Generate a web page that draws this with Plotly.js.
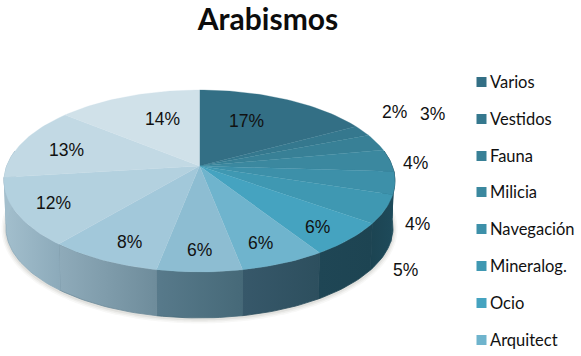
<!DOCTYPE html>
<html>
<head>
<meta charset="utf-8">
<script src="https://cdn.plot.ly/plotly-3.0.1.min.js"></script>
<style>html,body{margin:0;padding:0;background:#fff;overflow:hidden}#chart{width:581px;height:356px}</style>
</head>
<body>
<div id="chart"></div>
<script>
// Data (clockwise from 12 o'clock)
const values = [17, 2, 3, 4, 4, 5, 6, 6, 6, 8, 12, 13, 14];
const legendNames = ["Varios", "Vestidos", "Fauna", "Milicia", "Navegación", "Mineralog.", "Ocio", "Arquitect"];
// Styles
const topColors = ["#336f85","#35788e","#388096","#3b889f","#3d90a9","#3f98b2","#45a3c0","#6fb4cd","#8dbdd2","#a2c8da","#b3d1df","#c2d9e4","#d0e1e9"];
const sideLeft  = ["#1d4a5a","#1d4a5a","#1d4a5a","#1d4a5a","#1c4654","#1c4452","#1f4655","#37586a","#587a8b","#8fabba","#a3bfcd","#a3bfcd","#a3bfcd"];
const sideRight = ["#1f4e5f","#1f4e5f","#1f4e5f","#1f4e5f","#1f4c5c","#1e4a5a","#1d4452","#2d4f5e","#466978","#6e8c9b","#8caaba","#a3bfcd","#a3bfcd"];
// Layout helpers (pixel-scaled axes)
const cx = 199.5, cy = 166, Bx = 192.8, Ay = 88.5, persp = 0.165, depth = 47, shrink = 0.99;
const labelXY = [[246,121],[394,112],[432,114],[415,163],[417,224],[405,270],[317,227],[260,243],[199,250],[129,242],[53,203],[66,150],[162,119]];
const legendX = 481.5, legendTextX = 490, legendTextDy = 1.5;
const legendY = [82,119,156,192,229,266,303,340];

const total = values.reduce((a,b)=>a+b,0);
function proj(deg, bottom){
  const t = deg*Math.PI/180, u = Math.sin(t), v = Math.cos(t), w = 1 + persp*v;
  const s = bottom ? shrink : 1, d = bottom ? depth : 0;
  return [cx + s*Bx*u/w, cy - s*Ay*v/w + d];
}
function arc(a0, a1, bottom){
  const n = Math.max(2, Math.ceil(Math.abs(a1-a0)/1.5)), pts = [];
  for(let i=0;i<=n;i++) pts.push(proj(a0+(a1-a0)*i/n, bottom));
  return pts;
}
const traces = [];
// soft shadow below the disc
[[9,0.035],[6,0.05],[3,0.07]].forEach(([wd,al])=>{
  const p = arc(78,282,true);
  traces.push({type:"scatter",mode:"lines",x:p.map(q=>q[0]),y:p.map(q=>q[1]+1),
    line:{color:"rgba(60,50,40,"+al+")",width:wd,shape:"spline"},hoverinfo:"skip",showlegend:false});
});
let cum = 0;
const slices = values.map(v=>{const a0=cum/total*360; cum+=v; return [a0,cum/total*360];});
// rim (only the front half is visible)
slices.forEach(([a0,a1],i)=>{
  const s0 = Math.max(a0,80), s1 = Math.min(a1,280);
  if(s1<=s0) return;
  const top = arc(s0,s1,false), bot = arc(s1,s0,true), p = top.concat(bot);
  p.push(p[0]);
  traces.push({type:"scatter",mode:"lines",x:p.map(q=>q[0]),y:p.map(q=>q[1]),
    fill:"toself",line:{width:0.8,color:sideRight[i]},
    fillgradient:{type:"horizontal",colorscale:[[0,sideLeft[i]],[1,sideRight[i]]]},
    hoverinfo:"skip",showlegend:false});
});
// top surface
slices.forEach(([a0,a1],i)=>{
  const p = [[cx,cy]].concat(arc(a0,a1,false)); p.push([cx,cy]);
  traces.push({type:"scatter",mode:"lines",x:p.map(q=>q[0]),y:p.map(q=>q[1]),
    fill:"toself",fillcolor:topColors[i],line:{width:0.3,color:topColors[i]},
    text:values[i]+"%",hoverinfo:"text",showlegend:false});
});
// legend
traces.push({type:"scatter",mode:"markers",x:legendNames.map(()=>legendX),y:legendY,
  marker:{symbol:"square",size:10,color:topColors.slice(0,8)},text:legendNames,hoverinfo:"text",showlegend:false});
traces.push({type:"scatter",mode:"text",x:legendNames.map(()=>legendTextX),y:legendY.map(y=>y+legendTextDy),
  text:legendNames,textposition:"middle right",
  textfont:{family:"Lato, sans-serif",size:16.5,color:"#111"},hoverinfo:"skip",showlegend:false});

const annotations = values.map((v,i)=>({
  x:labelXY[i][0],y:labelXY[i][1],xref:"x",yref:"y",text:v+"%",showarrow:false,
  font:{family:"Liberation Sans, Arial, sans-serif",size:17.5,color:"#111"},xanchor:"center",yanchor:"middle"
}));
const layout = {
  width:581,height:356,margin:{l:0,r:0,t:0,b:0},paper_bgcolor:"#fff",plot_bgcolor:"#fff",showlegend:false,
  title:{text:"<b>Arabismos</b>",x:268/581,xanchor:"center",y:0.945,yanchor:"middle",font:{family:"Lato, sans-serif",size:30,color:"#0c0c0c"}},
  xaxis:{range:[0,581],visible:false,fixedrange:true},
  yaxis:{range:[356,0],visible:false,fixedrange:true},
  annotations
};
Plotly.newPlot("chart",traces,layout,{displayModeBar:false});
</script>
</body>
</html>
